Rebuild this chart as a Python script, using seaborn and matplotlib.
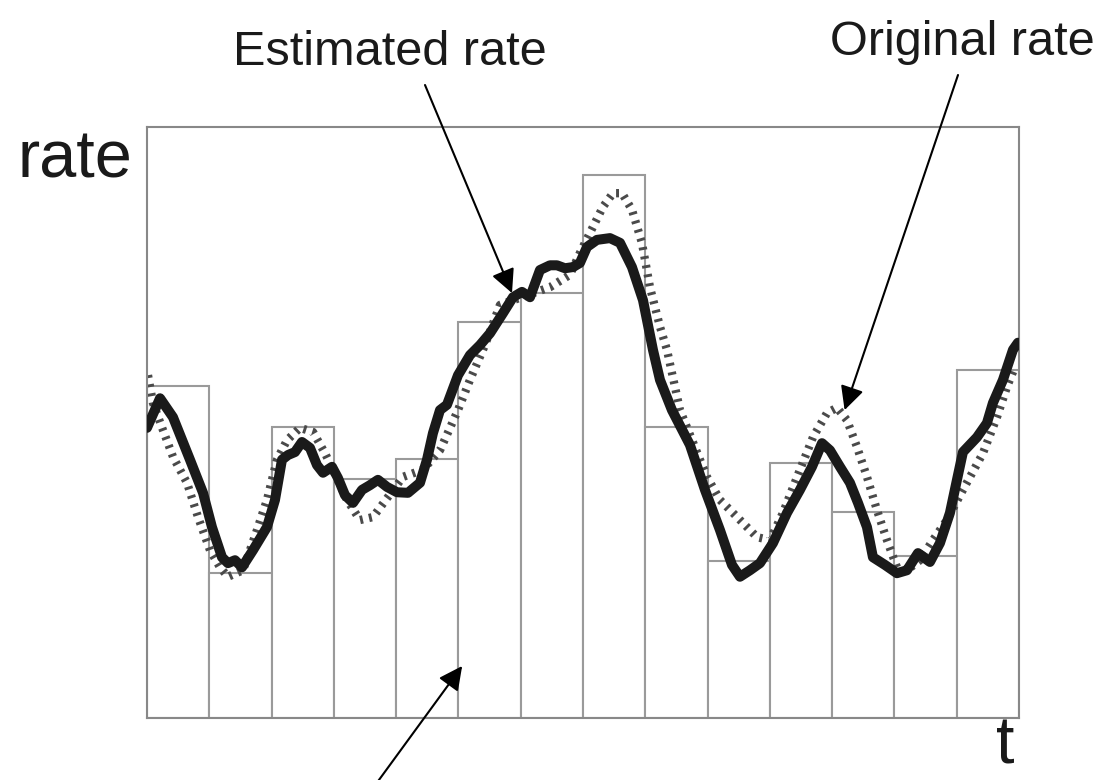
import matplotlib
matplotlib.use("Agg")
import matplotlib.pyplot as plt
import seaborn as sns
import numpy as np
import pandas as pd

# Histogram bins (width 1 in t), heights in rate units (axis 0..100)
bin_centers = [0.5, 1.5, 2.5, 3.5, 4.5, 5.5, 6.5, 7.5, 8.5, 9.5, 10.5, 11.5, 12.5, 13.5]
bin_heights = [56.2, 24.5, 49.2, 40.4, 43.8, 67.0, 71.9, 91.9, 49.2, 26.6, 43.1, 34.9, 27.4, 58.9]

# Estimated rate (solid thick black)
est_t = [0.0, 0.209, 0.417, 0.690, 0.899, 1.043, 1.204, 1.300, 1.413, 1.525, 1.702, 1.926, 2.055,
         2.167, 2.264, 2.376, 2.488, 2.617, 2.729, 2.826, 2.970, 3.066, 3.179, 3.307, 3.452, 3.580,
         3.708, 3.853, 4.014, 4.190, 4.383, 4.495, 4.591, 4.704, 4.816, 4.993, 5.185, 5.346, 5.507,
         5.715, 5.876, 6.020, 6.149, 6.309, 6.470, 6.582, 6.711, 6.839, 6.951, 7.064, 7.224, 7.433,
         7.594, 7.786, 7.963, 8.123, 8.236, 8.428, 8.717, 8.958, 9.199, 9.392, 9.520, 9.681, 9.841,
         10.050, 10.275, 10.483, 10.676, 10.837, 10.965, 11.126, 11.286, 11.415, 11.559, 11.655,
         11.848, 12.040, 12.201, 12.378, 12.570, 12.731, 12.891, 13.004, 13.100, 13.325, 13.485,
         13.581, 13.742, 13.903, 13.983]
est_rate = [49.1, 54.1, 50.9, 43.7, 38.1, 32.3, 27.2, 26.2, 26.7, 25.5, 28.4, 32.3, 36.9,
            43.7, 44.5, 45.0, 46.7, 45.7, 42.8, 41.5, 42.5, 40.6, 37.7, 36.4, 38.6, 39.4,
            40.3, 39.1, 38.2, 38.1, 39.8, 43.7, 48.2, 52.1, 53.0, 58.0, 61.4, 63.1, 65.1,
            68.5, 71.2, 72.1, 71.2, 75.8, 76.6, 76.6, 76.1, 76.3, 77.0, 79.7, 80.9, 81.2,
            80.4, 76.3, 70.7, 62.3, 57.2, 52.1, 46.2, 38.6, 31.8, 25.9, 23.9, 25.0, 26.2,
            29.6, 34.7, 38.6, 42.5, 46.5, 45.3, 42.5, 39.8, 36.4, 32.3, 27.2,
            25.9, 24.5, 25.0, 27.9, 26.4, 29.6, 34.7, 40.3, 45.0, 47.5, 49.9,
            53.3, 57.2, 62.3, 63.5]

# Original rate (dotted grey)
orig_t = [0.016, 0.096, 0.257, 0.417, 0.642, 0.819, 1.011, 1.172, 1.300, 1.541, 1.766, 1.926,
          2.087, 2.248, 2.456, 2.665, 2.858, 2.986, 3.211, 3.420, 3.628, 3.869, 4.110, 4.431,
          4.704, 4.993, 5.185, 5.426, 5.667, 5.988, 6.470, 6.791, 6.951, 7.160, 7.321, 7.481,
          7.626, 7.786, 7.946, 8.075, 8.236, 8.348, 8.557, 8.878, 8.990, 9.199, 9.408, 9.793,
          10.002, 10.210, 10.483, 10.692, 10.917, 11.077, 11.238, 11.398, 11.559, 11.719, 11.880,
          12.040, 12.201, 12.410, 12.618, 12.843, 13.100, 13.421, 13.646, 13.806, 13.935]
orig_rate = [58.0, 53.3, 48.7, 44.2, 39.8, 34.0, 28.4, 25.5, 23.9, 25.0, 31.8, 36.9,
             43.7, 47.0, 49.1, 48.4, 44.8, 42.0, 36.9, 33.5, 34.0, 37.4, 40.8, 42.0,
             45.3, 52.1, 57.2, 63.1, 69.9, 71.1, 72.9, 75.0, 78.7, 83.1, 86.5, 88.8,
             88.8, 86.0, 80.4, 72.9, 66.2, 62.3, 52.1, 43.7, 40.8, 36.9, 34.7, 30.6,
             30.1, 34.7, 42.0, 47.5, 51.6, 52.5, 50.4, 45.9, 40.8, 35.2, 30.1,
             25.5, 25.0, 26.7, 30.1, 33.5, 38.6, 44.8, 50.9, 56.0, 59.4]

W, H = 1102, 780
fig = plt.figure(figsize=(W / 100, H / 100), dpi=100)
sns.set_style("white")
plt.rcParams['font.family'] = ['Liberation Sans', 'DejaVu Sans']

ax = fig.add_axes([147 / W, (H - 718) / H, (1019 - 147) / W, (718 - 127) / H])

bars = pd.DataFrame({"t": bin_centers, "rate": bin_heights})
sns.barplot(data=bars, x="t", y="rate", native_scale=True, width=1.0,
            color="white", edgecolor="#9a9a9a", linewidth=1.5, ax=ax, zorder=1)
for p in ax.patches:
    p.set_facecolor("white")

orig = pd.DataFrame({"t": orig_t, "rate": orig_rate})
sns.lineplot(data=orig, x="t", y="rate", sort=False, estimator=None, ax=ax,
             color="#4a4a4a", linewidth=6.0, dashes=False, zorder=2)
ax.lines[-1].set_linestyle((0, (0.35, 0.75)))
ax.lines[-1].set_dash_capstyle("butt")

est = pd.DataFrame({"t": est_t, "rate": est_rate})
sns.lineplot(data=est, x="t", y="rate", sort=False, estimator=None, ax=ax,
             color="#1a1a1a", linewidth=7.2, zorder=3)
ax.lines[-1].set_solid_capstyle("round")
ax.lines[-1].set_solid_joinstyle("round")

ax.set_xlim(0, 14)
ax.set_ylim(0, 100)
ax.set_xticks([])
ax.set_yticks([])
ax.set_xlabel("")
ax.set_ylabel("")
for s in ax.spines.values():
    s.set_color("#888888")
    s.set_linewidth(1.5)
    s.set_visible(True)

fig.text(17 / W, (H - 177) / H, "rate", fontsize=48, ha="left", va="baseline", color="#1a1a1a")
fig.text(1005 / W, 2 / H, "t", fontsize=48, ha="center", va="bottom", color="#1a1a1a")
fig.text(233 / W, (H - 65) / H, "Estimated rate", fontsize=35, ha="left", va="baseline", color="#1a1a1a")
fig.text(830 / W, (H - 55) / H, "Original rate", fontsize=35, ha="left", va="baseline", color="#1a1a1a")

aprops = dict(arrowstyle="-|>,head_length=0.4,head_width=0.2", mutation_scale=36,
              lw=1.5, color="black", shrinkA=0, shrinkB=0)
ax.annotate("", xy=(5.86, 71.9), xycoords="data", xytext=(425, H - 85),
            textcoords="figure pixels", arrowprops=aprops, annotation_clip=False)
ax.annotate("", xy=(11.2, 52.1), xycoords="data", xytext=(958, H - 75),
            textcoords="figure pixels", arrowprops=aprops, annotation_clip=False)
ax.annotate("", xy=(5.06, 8.8), xycoords="data", xytext=(376, -4),
            textcoords="figure pixels", arrowprops=aprops, annotation_clip=False)

fig.savefig("out.png", dpi=100, facecolor="white")
